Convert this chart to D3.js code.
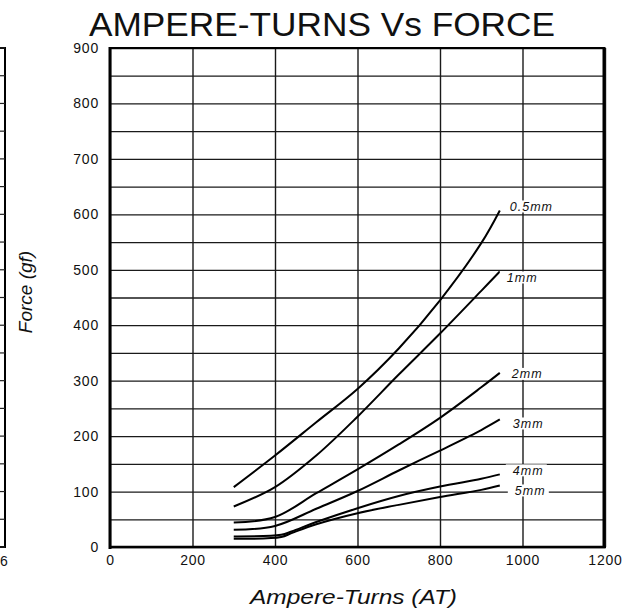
<!DOCTYPE html>
<html>
<head>
<meta charset="utf-8">
<script src="https://cdn.jsdelivr.net/npm/d3@7"></script>
<style>
  body { margin: 0; background: #fff; }
  svg { display: block; }
  text { font-family: "Liberation Sans", Arial, Helvetica, sans-serif; fill: #111; }
</style>
</head>
<body>
<div id="chart"></div>
<script>

// tick labels
var xTicks = [0, 200, 400, 600, 800, 1000, 1200];
var yTicks = [0, 100, 200, 300, 400, 500, 600, 700, 800, 900];

// series: [ampere-turns, force gf]
var seriesNames = ["0.5mm", "1mm", "2mm", "3mm", "4mm", "5mm"];
var gap05 = [[300, 108], [400, 165], [500, 225], [600, 285], [700, 358], [800, 445], [900, 548], [945, 607]];
var gap1  = [[300, 73], [400, 108], [500, 165], [600, 235], [700, 311], [800, 385], [900, 462], [945, 497]];
var gap2  = [[300, 44], [400, 54], [500, 97], [600, 140], [700, 185], [800, 233], [900, 288], [945, 314]];
var gap3  = [[300, 31], [400, 38], [500, 69], [600, 101], [700, 138], [800, 174], [900, 211], [945, 230]];
var gap4  = [[300, 19], [415, 22], [440, 28], [500, 45], [600, 70], [700, 92], [800, 109], [900, 123], [945, 131]];
var gap5  = [[300, 15], [415, 18], [440, 25], [500, 41], [600, 61], [700, 76], [800, 90], [900, 103], [945, 111]];
var seriesData = [gap05, gap1, gap2, gap3, gap4, gap5];

var width = 642, height = 615;

var svg = d3.select("#chart")
  .append("svg")
    .attr("width", width)
    .attr("height", height);

var x = d3.scaleLinear().domain([0, 1200]).range([110, 605]);
var y = d3.scaleLinear().domain([0, 900]).range([547, 48]);

// title
svg.append("text")
    .attr("x", 89)
    .attr("y", 36)
    .attr("textLength", 466)
    .attr("lengthAdjust", "spacingAndGlyphs")
    .style("font-size", "33px")
    .text("AMPERE-TURNS Vs FORCE");

// horizontal grid, every 50 gf
svg.append("g")
    .attr("transform", "translate(110,0)")
    .call(d3.axisLeft(y).ticks(18).tickSize(-(605 - 110)).tickFormat(""))
    .call(function(g) { g.select(".domain").remove(); })
    .selectAll("line")
      .attr("stroke", "#1a1a1a")
      .attr("stroke-width", 1.3);

// vertical grid
svg.append("g")
    .attr("transform", "translate(0,547)")
    .call(d3.axisBottom(x).tickValues(xTicks).tickSize(-(547 - 48)).tickFormat(""))
    .call(function(g) { g.select(".domain").remove(); })
    .selectAll("line")
      .attr("stroke", "#1a1a1a")
      .attr("stroke-width", 1.4);

// frame
svg.append("line").attr("x1", 110).attr("x2", 605).attr("y1", 48).attr("y2", 48)
    .attr("stroke", "#000").attr("stroke-width", 2);
svg.append("line").attr("x1", 604).attr("x2", 604).attr("y1", 47).attr("y2", 548)
    .attr("stroke", "#000").attr("stroke-width", 3);
svg.append("line").attr("x1", 109).attr("x2", 606).attr("y1", 547).attr("y2", 547)
    .attr("stroke", "#000").attr("stroke-width", 2.5);
svg.append("line").attr("x1", 110).attr("x2", 110).attr("y1", 47).attr("y2", 549)
    .attr("stroke", "#000").attr("stroke-width", 3);

// axis labels
var yAxis = svg.append("g")
    .attr("transform", "translate(110,0)")
    .call(d3.axisLeft(y).tickValues(yTicks).tickSize(0).tickPadding(11).tickFormat(d3.format("d")));
yAxis.select(".domain").remove();
yAxis.selectAll("text")
    .style("font-size", "14px")
    .style("letter-spacing", "0.8px")
    .style("font-family", "'Liberation Sans', Arial, sans-serif")
    .attr("fill", "#111");

var xAxis = svg.append("g")
    .attr("transform", "translate(0,547)")
    .call(d3.axisBottom(x).tickValues(xTicks).tickSize(0).tickPadding(8).tickFormat(d3.format("d")));
xAxis.select(".domain").remove();
xAxis.selectAll("text")
    .style("font-size", "14px")
    .style("letter-spacing", "0.8px")
    .style("font-family", "'Liberation Sans', Arial, sans-serif")
    .attr("fill", "#111");

svg.append("text")
    .attr("x", 250)
    .attr("y", 604)
    .attr("textLength", 207)
    .attr("lengthAdjust", "spacingAndGlyphs")
    .style("font-size", "21px")
    .style("font-style", "italic")
    .text("Ampere-Turns (AT)");

svg.append("text")
    .attr("transform", "translate(32,292) rotate(-90)")
    .attr("text-anchor", "middle")
    .style("font-size", "19px")
    .style("font-style", "italic")
    .text("Force (gf)");

// cut-off neighbouring chart at the left edge
svg.append("path")
    .attr("d", "M0," + y(900) + "H5V" + y(0) + "H0")
    .attr("fill", "none")
    .attr("stroke", "#000")
    .attr("stroke-width", 2);
svg.append("g")
  .selectAll("line")
  .data(y.ticks(18))
  .enter()
  .append("line")
    .attr("x1", 0).attr("x2", 5)
    .attr("y1", function(d) { return y(d); })
    .attr("y2", function(d) { return y(d); })
    .attr("stroke", "#222")
    .attr("stroke-width", 1.2);
svg.append("text")
    .attr("x", 4).attr("y", 566)
    .attr("text-anchor", "middle")
    .style("font-size", "14px")
    .text("6");

// curves
var line = d3.line()
    .x(function(d) { return x(d[0]); })
    .y(function(d) { return y(d[1]); })
    .curve(d3.curveCatmullRom.alpha(0.5));

svg.append("g")
  .selectAll("path")
  .data(seriesData)
  .enter()
  .append("path")
    .attr("d", line)
    .attr("fill", "none")
    .attr("stroke", "#000")
    .attr("stroke-width", 2);

// curve labels, offset from each curve end
var labelOffset = [[10, -4], [7, 6], [12, 1], [13, 4], [13, -4], [15, 5]];
var labels = svg.append("g")
  .selectAll("g")
  .data(seriesData)
  .enter()
  .append("g")
    .attr("transform", function(d, i) {
      var last = d[d.length - 1];
      return "translate(" + (x(last[0]) + labelOffset[i][0]) + "," + (y(last[1]) + labelOffset[i][1]) + ")";
    });

labels.append("rect")
    .attr("x", -7)
    .attr("y", -6)
    .attr("width", function(d, i) { return seriesNames[i].length * 9 + 14; })
    .attr("height", 12)
    .attr("fill", "#fff");

labels.append("text")
    .attr("dy", "0.35em")
    .style("font-size", "12.5px")
    .style("font-style", "italic")
    .style("letter-spacing", "1px")
    .text(function(d, i) { return seriesNames[i]; });

</script>
</body>
</html>
